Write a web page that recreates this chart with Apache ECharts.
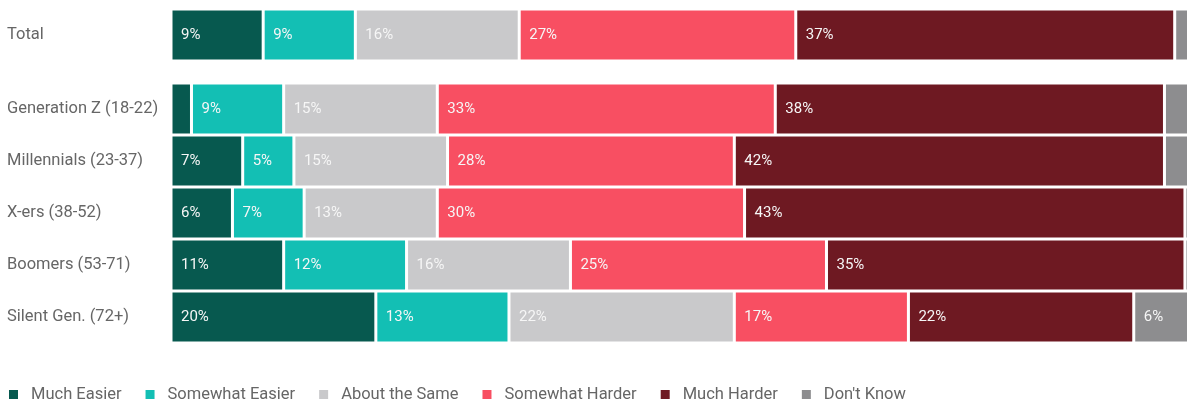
<!DOCTYPE html>
<html>
<head>
<meta charset="utf-8">
<script src="https://cdn.jsdelivr.net/npm/echarts@6/dist/echarts.min.js"></script>
<style>
  html, body { margin: 0; padding: 0; background: #fff; }
  #chart { width: 1187px; height: 403px; }
</style>
</head>
<body>
<div id="chart"></div>
<script>
// Answer groups, in stacking order
const seriesNames = ['Much Easier', 'Somewhat Easier', 'About the Same', 'Somewhat Harder', 'Much Harder', "Don't Know"];
const seriesColors = ['#07594f', '#13bfb4', '#c9c9cb', '#f84f62', '#6e1922', '#8d8d8f'];

// Overall row
const totalCategory = ['Total'];
const totalValues = [
  [9], [9], [16], [27], [37], [2]
];

// Rows by generation
const genCategories = ['Generation Z (18-22)', 'Millennials (23-37)', 'X-ers (38-52)', 'Boomers (53-71)', 'Silent Gen. (72+)'];
const muchEasier     = [2, 7, 6, 11, 20];
const somewhatEasier = [9, 5, 7, 12, 13];
const aboutSame      = [15, 15, 13, 16, 22];
const somewhatHarder = [33, 28, 30, 25, 17];
const muchHarder     = [38, 42, 43, 35, 22];
const dontKnow       = [3, 3, 1, 2, 6];
const genValues = [muchEasier, somewhatEasier, aboutSame, somewhatHarder, muchHarder, dontKnow];

const FONT = 'Roboto, "Noto Sans", sans-serif';
const LABEL_MIN = 5;
// the 100% end of each bar runs a little past the right edge of the canvas
const AXIS_MAX = 99.2;

const chart = echarts.init(document.getElementById('chart'), null, { renderer: 'canvas' });

function makeSeries(values, axisIndex, stackName) {
  return seriesNames.map((name, i) => ({
    name: name,
    type: 'bar',
    stack: stackName,
    xAxisIndex: axisIndex,
    yAxisIndex: axisIndex,
    barWidth: '100%',
    clip: false,
    data: values[i],
    itemStyle: { color: seriesColors[i], borderColor: '#ffffff', borderWidth: 1.5 },
    label: {
      show: true,
      position: 'insideLeft',
      distance: 10,
      color: '#f6f6f6',
      fontFamily: FONT,
      fontSize: 15,
      formatter: p => (p.value >= LABEL_MIN ? p.value + '%' : '')
    },
    emphasis: { disabled: true },
    animation: false
  }));
}

const xAxisBase = {
  type: 'value', min: 0, max: AXIS_MAX,
  axisLine: { show: false }, axisTick: { show: false },
  axisLabel: { show: false }, splitLine: { show: false }
};
const yAxisBase = {
  type: 'category', inverse: true,
  axisLine: { show: false }, axisTick: { show: false },
  axisLabel: { align: 'left', margin: 164, color: '#666666', fontFamily: FONT, fontSize: 16.5 }
};

chart.setOption({
  animation: false,
  grid: [
    { left: 171, right: 0, top: 9, height: 52 },
    { left: 171, right: 0, top: 83, height: 260 }
  ],
  xAxis: [
    Object.assign({ gridIndex: 0 }, xAxisBase),
    Object.assign({ gridIndex: 1 }, xAxisBase)
  ],
  yAxis: [
    Object.assign({ gridIndex: 0, data: totalCategory }, yAxisBase),
    Object.assign({ gridIndex: 1, data: genCategories }, yAxisBase)
  ],
  legend: {
    data: seriesNames,
    left: 2,
    top: 381,
    icon: 'rect',
    itemWidth: 11,
    itemHeight: 11,
    itemGap: 22,
    textStyle: { color: '#666666', fontFamily: FONT, fontSize: 16.5, padding: [0, 0, 0, 7] }
  },
  series: makeSeries(totalValues, 0, 'total').concat(makeSeries(genValues, 1, 'gen'))
});
</script>
</body>
</html>
